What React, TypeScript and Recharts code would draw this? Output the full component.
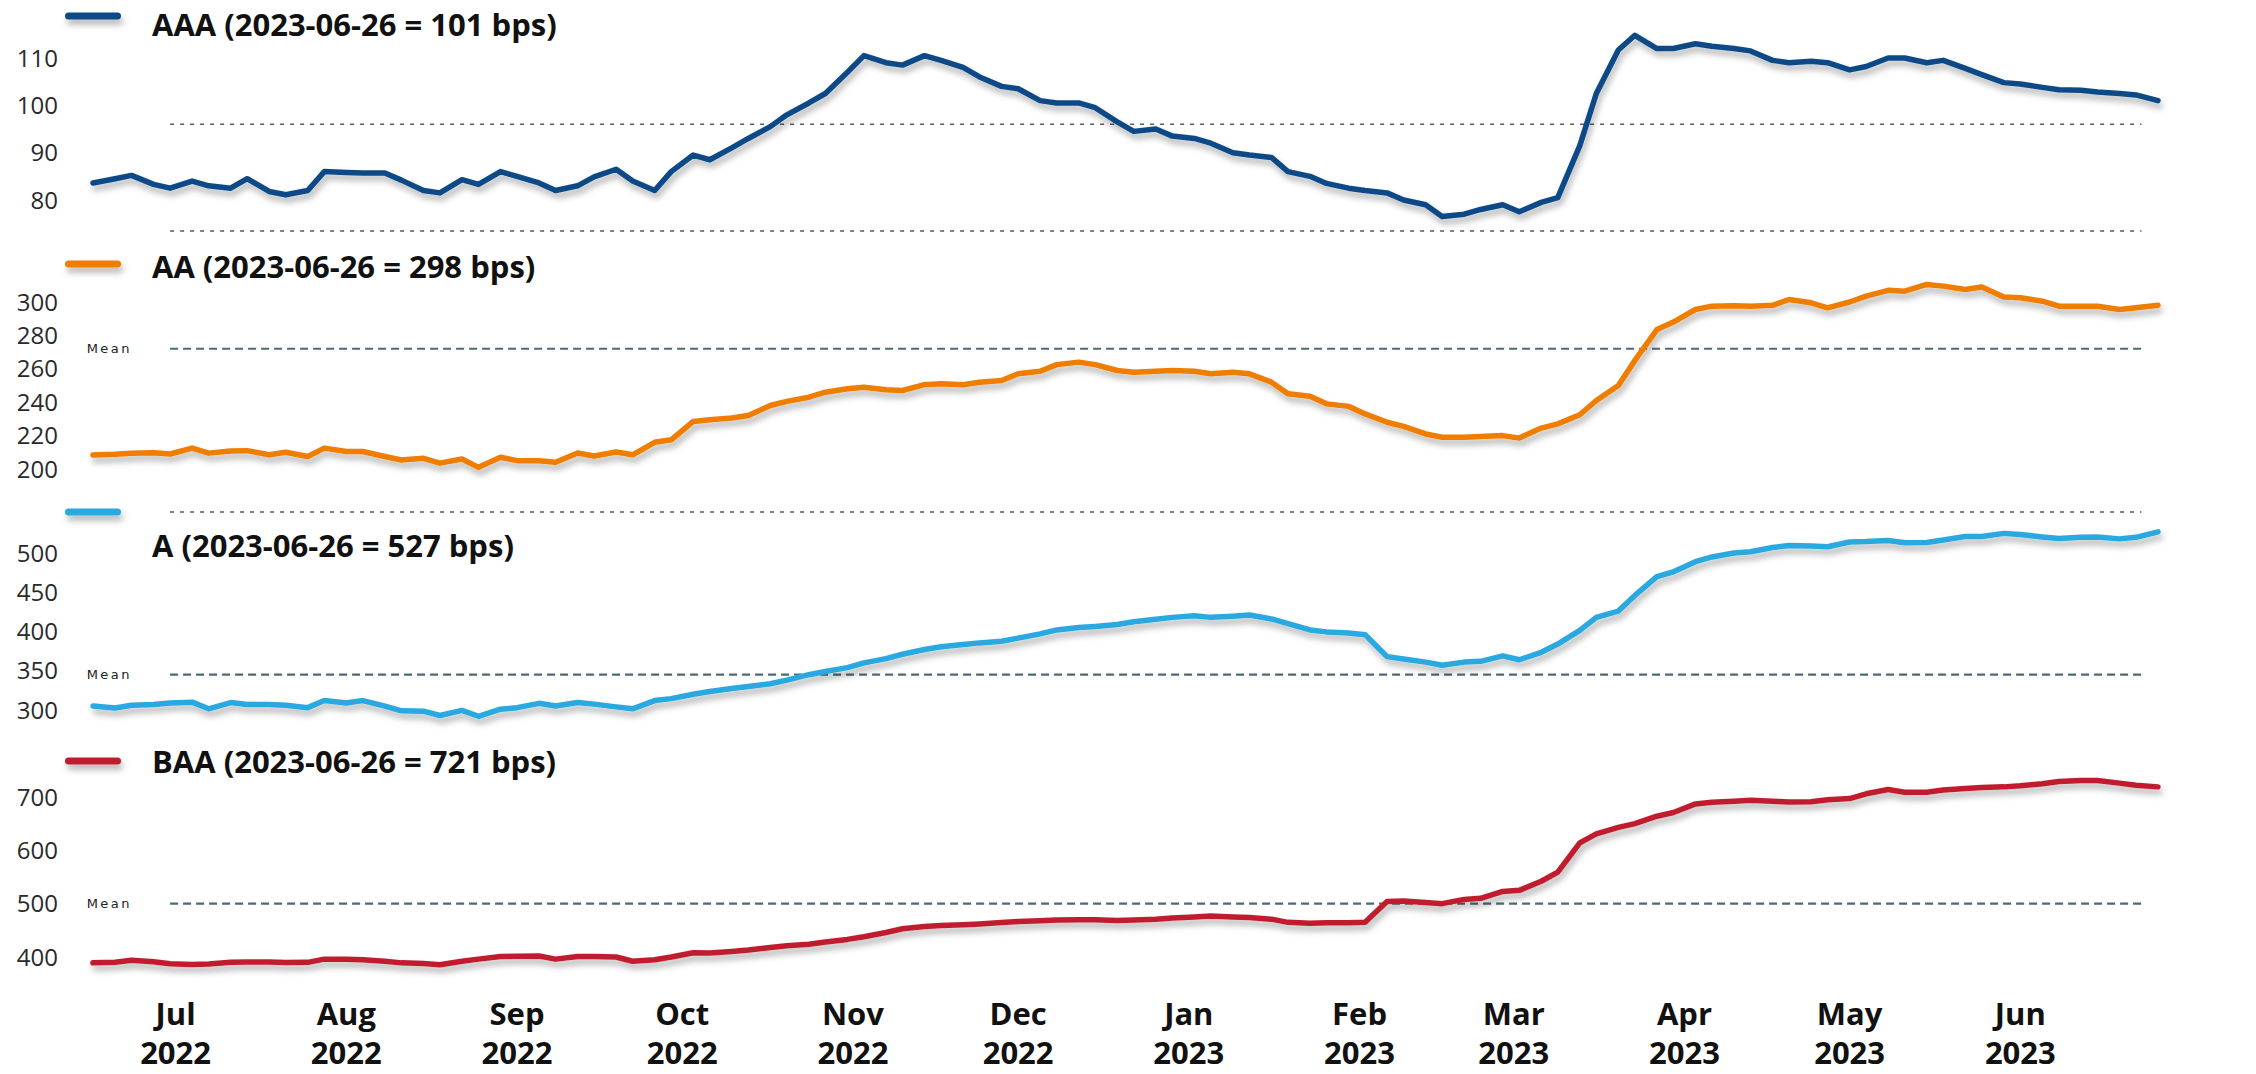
import React from 'react';
import { LineChart, Line, XAxis, YAxis, ReferenceLine, Legend } from 'recharts';

const W = 2256;
const H = 1074;

// ---------- DATA ----------
const DATES = [
  '2022-06-16','2022-06-20','2022-06-23','2022-06-27','2022-06-30',
  '2022-07-04','2022-07-07','2022-07-11','2022-07-14','2022-07-18','2022-07-21','2022-07-25','2022-07-28',
  '2022-08-01','2022-08-04','2022-08-08','2022-08-11','2022-08-15','2022-08-18','2022-08-22','2022-08-25','2022-08-29',
  '2022-09-01','2022-09-05','2022-09-08','2022-09-12','2022-09-15','2022-09-19','2022-09-22','2022-09-26','2022-09-29',
  '2022-10-03','2022-10-06','2022-10-10','2022-10-13','2022-10-17','2022-10-20','2022-10-24','2022-10-27','2022-10-31',
  '2022-11-03','2022-11-07','2022-11-10','2022-11-14','2022-11-17','2022-11-21','2022-11-24','2022-11-28',
  '2022-12-01','2022-12-05','2022-12-08','2022-12-12','2022-12-15','2022-12-19','2022-12-22','2022-12-26','2022-12-29',
  '2023-01-02','2023-01-05','2023-01-09','2023-01-12','2023-01-16','2023-01-19','2023-01-23','2023-01-26','2023-01-30',
  '2023-02-02','2023-02-06','2023-02-09','2023-02-13','2023-02-16','2023-02-20','2023-02-23','2023-02-27',
  '2023-03-02','2023-03-06','2023-03-09','2023-03-13','2023-03-16','2023-03-20','2023-03-23','2023-03-27','2023-03-30',
  '2023-04-03','2023-04-06','2023-04-10','2023-04-13','2023-04-17','2023-04-20','2023-04-24','2023-04-27',
  '2023-05-01','2023-05-04','2023-05-08','2023-05-11','2023-05-15','2023-05-18','2023-05-22','2023-05-25','2023-05-29',
  '2023-06-01','2023-06-05','2023-06-08','2023-06-12','2023-06-15','2023-06-19','2023-06-22','2023-06-26',
];

const AAA_VALUES = [
  83.6, 84.5, 85.2, 83.3, 82.5,
  84.0, 83.0, 82.5, 84.5, 81.8, 81.1, 82.0, 86.0,
  85.8, 85.7, 85.7, 84.2, 82.0, 81.5, 84.3, 83.3, 86.0,
  85.0, 83.6, 82.0, 83.0, 84.9, 86.5, 84.0, 82.0, 86.0,
  89.5, 88.5, 91.0, 93.0, 95.5, 98.0, 100.5, 102.5, 107.0,
  110.5, 109.0, 108.5, 110.5, 109.5, 108.0, 106.0, 104.0,
  103.5, 101.0, 100.5, 100.5, 99.5, 96.5, 94.5, 95.0, 93.5,
  93.0, 92.0, 90.0, 89.5, 89.0, 86.0, 85.0, 83.5, 82.5,
  82.0, 81.5, 80.0, 79.0, 76.5, 77.0, 78.0, 79.0,
  77.5, 79.5, 80.5, 91.5, 102.5, 111.7, 114.8, 112.0, 112.0,
  113.0, 112.5, 112.0, 111.5, 109.5, 109.0, 109.3, 109.0,
  107.5, 108.2, 110.0, 110.0, 109.0, 109.5, 107.8, 106.5, 104.8,
  104.5, 103.8, 103.3, 103.2, 102.8, 102.5, 102.2, 101.0,
];

const AA_VALUES = [
  208.4, 208.8, 209.5, 209.8, 209.0,
  212.5, 209.5, 210.8, 211.0, 208.5, 210.0, 207.5, 212.5,
  210.5, 210.5, 207.5, 205.4, 206.4, 203.5, 206.0, 201.0, 207.0,
  205.0, 205.0, 204.0, 209.6, 207.8, 210.2, 208.5, 216.0, 217.5,
  228.5, 229.5, 230.5, 232.0, 238.0, 240.5, 243.0, 246.0, 248.0,
  249.0, 247.5, 247.0, 250.5, 251.0, 250.5, 252.0, 253.0,
  257.0, 258.5, 262.5, 264.0, 262.5, 259.0, 258.0, 258.5, 259.0,
  258.5, 257.0, 258.0, 257.0, 252.0, 245.0, 243.5, 239.0, 237.5,
  233.0, 228.0, 225.5, 221.0, 219.0, 219.0, 219.5, 220.0,
  218.5, 224.5, 227.0, 232.5, 241.0, 250.0, 265.0, 283.5, 288.0,
  295.5, 297.5, 297.8, 297.5, 298.0, 301.5, 299.5, 296.5,
  300.0, 303.5, 307.0, 306.5, 310.5, 309.5, 307.5, 309.0, 303.0,
  302.5, 300.5, 297.5, 297.5, 297.5, 295.5, 296.5, 298.0,
];

const A_VALUES = [
  305, 302.5, 306, 307, 309,
  310, 301.5, 309.5, 307, 307, 306, 303, 312,
  309, 312, 305, 299, 298.5, 293, 299.5, 292, 301,
  303, 308.5, 305, 309.5, 307.5, 304, 301.5, 312, 314.5,
  320, 323.5, 327.5, 330, 333.5, 338, 345, 349, 354,
  360, 365.5, 371, 377, 380.5, 383.5, 385.5, 387.5,
  391.5, 397, 402, 405, 406.5, 409, 412.5, 415.5, 418,
  420, 418, 419.5, 421, 416, 410, 402, 399.5, 398,
  396, 368, 365, 361, 357, 361, 362, 369,
  364, 373.5, 384, 401.5, 418, 426, 446, 470, 476,
  489, 495, 500, 501.5, 507, 509.5, 509, 508,
  514, 514.5, 516, 513, 513.5, 516.5, 521, 521, 525,
  523.5, 520.5, 518.5, 520, 520.5, 518, 520, 527,
];

const BAA_VALUES = [
  389, 390, 394, 391, 387.5,
  386, 387, 390, 390.5, 390.5, 389.5, 390, 396,
  396, 395, 392, 389, 388, 385.5, 392, 396, 401,
  401.5, 402, 396, 401, 401, 400, 392, 395, 400,
  408, 407.5, 410.5, 413, 418, 421, 424, 428, 433,
  438, 446, 453, 457, 459, 460.5, 462, 464.5,
  466.5, 468, 469.5, 470, 470, 468.5, 469.5, 471, 473,
  475, 477, 475, 474, 471, 465, 463.5, 464, 464,
  465, 504, 505, 502, 500, 508, 510, 523,
  525, 542, 559, 614, 631, 643, 650, 664, 671,
  687, 690, 692, 694, 692, 690.5, 691, 695,
  697, 706, 714, 709, 709, 713, 716, 718, 719,
  721, 725, 729, 731, 731, 726, 722, 719,
];

const SERIES_NAMES = [
  'AAA (2023-06-26 = 101 bps)',
  'AA (2023-06-26 = 298 bps)',
  'A (2023-06-26 = 527 bps)',
  'BAA (2023-06-26 = 721 bps)',
];

const MONTH_TICKS = [
  '2022-07-01','2022-08-01','2022-09-01','2022-10-01','2022-11-01','2022-12-01',
  '2023-01-01','2023-02-01','2023-03-01','2023-04-01','2023-05-01','2023-06-01',
];
const MONTH_LABELS = ['Jul','Aug','Sep','Oct','Nov','Dec','Jan','Feb','Mar','Apr','May','Jun'];
const YEAR_LABELS = ['2022','2022','2022','2022','2022','2022','2023','2023','2023','2023','2023','2023'];

const TICKS_AAA = [80, 90, 100, 110];
const TICKS_AA = [200, 220, 240, 260, 280, 300];
const TICKS_A = [300, 350, 400, 450, 500];
const TICKS_BAA = [400, 500, 600, 700];

const MEAN_AAA = 96;
const MEAN_AA = 272;
const MEAN_A = 345;
const MEAN_BAA = 500;

const REF_START = '2022-06-30';
const REF_END = '2023-06-23';

// ---------- helpers ----------
const ts = (s: string) => Date.parse(s + 'T00:00:00Z');
const T0 = ts(DATES[0]);
const T1 = ts(DATES[DATES.length - 1]);
const MONTH_TS = MONTH_TICKS.map(ts);
const RX0 = ts(REF_START);
const RX1 = ts(REF_END);

const data = DATES.map((d, i) => ({
  t: ts(d),
  AAA: AAA_VALUES[i],
  AA: AA_VALUES[i],
  A: A_VALUES[i],
  BAA: BAA_VALUES[i],
}));

// ---------- layout / style ----------
const LEFT_AXIS_W = 93;
const RIGHT_AXIS_W = 98;
const X_AXIS_H = 80;

type PanelCfg = {
  key: string;
  name: string;
  color: string;
  domain: [number, number];
  ticks: number[];
  top: number;
  bottom: number;
  mean: number;
  meanDashed: boolean;
  sep?: number;
  iconY: number;
  textY: number;
  showX?: boolean;
};

const PANELS: PanelCfg[] = [
  { key: 'AAA', name: SERIES_NAMES[0], color: '#0b4a86', domain: [70, 120], ticks: TICKS_AAA, top: 10.67, bottom: 247.33, mean: MEAN_AAA, meanDashed: false, sep: 73.45, iconY: 16, textY: 25 },
  { key: 'AA', name: SERIES_NAMES[1], color: '#ef7d06', domain: [180, 320], ticks: TICKS_AA, top: 268.6, bottom: 502.4, mean: MEAN_AA, meanDashed: true, iconY: 264, textY: 267 },
  { key: 'A', name: SERIES_NAMES[2], color: '#2aa8e0', domain: [270, 560], ticks: TICKS_A, top: 505.9, bottom: 733.55, mean: MEAN_A, meanDashed: true, sep: 552.2, iconY: 512, textY: 546 },
  { key: 'BAA', name: SERIES_NAMES[3], color: '#c01f2f', domain: [350, 800], ticks: TICKS_BAA, top: 743.67, bottom: 983.67, mean: MEAN_BAA, meanDashed: true, iconY: 761, textY: 762, showX: true },
];

const TICK_STYLE = { fill: '#2a2a2a', fontSize: 24, fontFamily: 'Open Sans' };

const MonthTick = (props: any) => {
  const { x, y, payload } = props;
  const i = MONTH_TS.indexOf(payload.value);
  return (
    <text x={x} y={y} textAnchor="middle" fill="#111" fontFamily="Open Sans" fontWeight={700} fontSize={31}>
      <tspan x={x} dy={41}>{MONTH_LABELS[i]}</tspan>
      <tspan x={x} dy={39.5}>{YEAR_LABELS[i]}</tspan>
    </text>
  );
};

const LegendContent = ({ payload, iconY, textY, id }: any) => {
  const item = payload && payload[0];
  if (!item) return null;
  return (
    <div style={{ position: 'relative', width: W, height: 0 }}>
      <svg width={140} height={34} style={{ position: 'absolute', left: 0, top: iconY - 12, overflow: 'visible' }}>
        <defs>
          <filter id={`iconShadow-${id}`} filterUnits="userSpaceOnUse" x={0} y={0} width={140} height={34}>
            <feDropShadow dx={2} dy={5} stdDeviation={3} floodColor="#000" floodOpacity={0.3} />
          </filter>
        </defs>
        <line x1={68.5} x2={117.5} y1={12} y2={12} stroke={item.color} strokeWidth={7} strokeLinecap="round" filter={`url(#iconShadow-${id})`} />
      </svg>
      <div
        style={{
          position: 'absolute',
          left: 152,
          top: textY - 22,
          fontFamily: 'Open Sans',
          fontWeight: 700,
          fontSize: 31,
          lineHeight: '42px',
          color: '#111',
          whiteSpace: 'nowrap',
        }}
      >
        {item.value}
      </div>
    </div>
  );
};

function Panel({ p }: { p: PanelCfg }) {
  const marginBottom = p.showX ? H - p.bottom - X_AXIS_H : H - p.bottom;
  const meanStyle = p.meanDashed
    ? { stroke: '#4d6a74', strokeWidth: 2.2, strokeDasharray: '8 5' }
    : { stroke: '#5a5a5a', strokeWidth: 1.6, strokeDasharray: '4 6' };
  return (
    <div style={{ position: 'absolute', left: 0, top: 0 }}>
      <LineChart width={W} height={H} data={data} margin={{ top: p.top, right: 0, bottom: marginBottom, left: 0 }}>
        <XAxis
          dataKey="t"
          type="number"
          domain={[T0, T1]}
          ticks={MONTH_TS}
          interval={0}
          hide={!p.showX}
          axisLine={false}
          tickLine={false}
          tickSize={0}
          tickMargin={0}
          height={X_AXIS_H}
          tick={<MonthTick />}
        />
        <YAxis
          yAxisId="l"
          orientation="left"
          width={LEFT_AXIS_W}
          type="number"
          domain={p.domain}
          ticks={p.ticks}
          interval={0}
          axisLine={false}
          tickLine={false}
          tickSize={0}
          tickMargin={35}
          tick={TICK_STYLE}
        />
        <YAxis
          yAxisId="r"
          orientation="right"
          width={RIGHT_AXIS_W}
          type="number"
          domain={p.domain}
          ticks={p.ticks}
          interval={0}
          axisLine={false}
          tickLine={false}
          tickSize={0}
          tickMargin={25}
          tick={TICK_STYLE}
        />
        {p.sep != null && (
          <ReferenceLine
            yAxisId="l"
            segment={[{ x: RX0, y: p.sep }, { x: RX1, y: p.sep }]}
            stroke="#5a5a5a"
            strokeWidth={1.6}
            strokeDasharray="4 6"
          />
        )}
        <ReferenceLine
          yAxisId="l"
          segment={[{ x: RX0, y: p.mean }, { x: RX1, y: p.mean }]}
          {...meanStyle}
          label={
            p.meanDashed
              ? { value: 'Mean', position: 'left', offset: 38, fill: '#222', fontSize: 13, fontFamily: 'DejaVu Sans', letterSpacing: 2.5 }
              : undefined
          }
        />
        <Line
          yAxisId="l"
          type="linear"
          dataKey={p.key}
          name={p.name}
          stroke={p.color}
          strokeWidth={5.5}
          strokeLinejoin="round"
          strokeLinecap="round"
          dot={false}
          activeDot={false}
          isAnimationActive={false}
        />
        <Legend
          layout="horizontal"
          verticalAlign="middle"
          align="center"
          wrapperStyle={{ left: 0, top: 0, width: W, margin: 0 }}
          content={(props: any) => <LegendContent payload={props.payload} iconY={p.iconY} textY={p.textY} id={p.key} />}
        />
      </LineChart>
    </div>
  );
}

export default function App() {
  return (
    <div style={{ position: 'absolute', left: 0, top: 0, width: W, height: H, background: '#fff', overflow: 'hidden' }}>
      <style>{'.recharts-line-curve{filter:url(#lineShadow);}'}</style>
      <svg width={0} height={0} style={{ position: 'absolute' }}>
        <defs>
          <filter id="lineShadow" filterUnits="userSpaceOnUse" x={0} y={0} width={W} height={H}>
            <feDropShadow dx={2} dy={5} stdDeviation={3} floodColor="#000" floodOpacity={0.3} />
          </filter>
        </defs>
      </svg>
      {PANELS.map((p) => (
        <Panel key={p.key} p={p} />
      ))}
    </div>
  );
}
